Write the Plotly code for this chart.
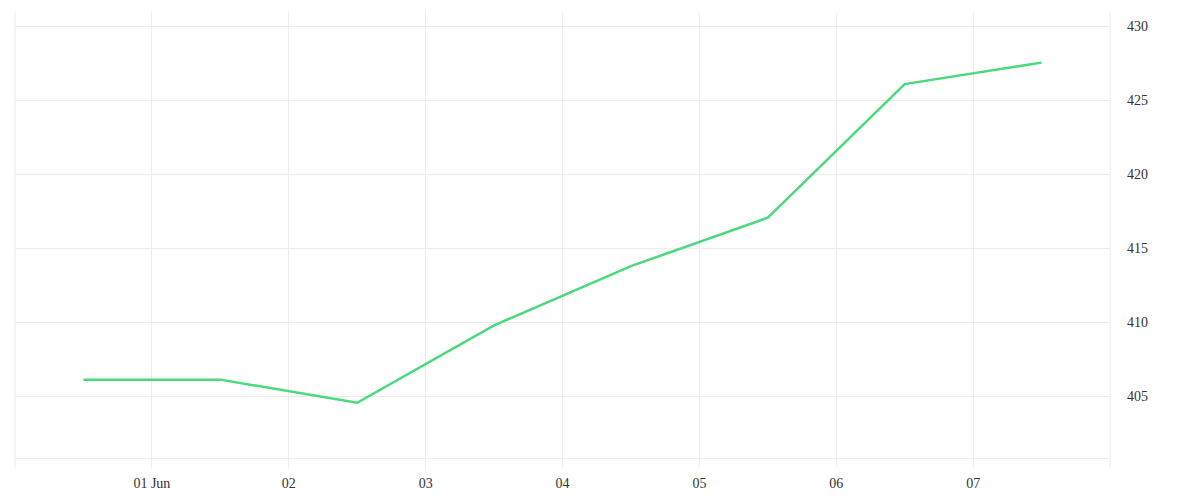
import plotly.graph_objects as go

dates = ["2024-05-31 12:00", "2024-06-01 12:00", "2024-06-02 12:00", "2024-06-03 12:00",
         "2024-06-04 12:00", "2024-06-05 12:00", "2024-06-06 12:00", "2024-06-07 12:00"]
values = [406.13, 406.13, 404.57, 409.80, 413.80, 417.07, 426.10, 427.55]

tick_vals = ["2024-06-01", "2024-06-02", "2024-06-03", "2024-06-04",
             "2024-06-05", "2024-06-06", "2024-06-07"]
tick_text = ["01 Jun", "02", "03", "04", "05", "06", "07"]
y_ticks = [405, 410, 415, 420, 425, 430]

grid = "#ececec"
font = dict(family="Liberation Serif, DejaVu Serif, serif", size=14, color="#333333")

fig = go.Figure()
fig.add_trace(go.Scatter(x=dates, y=values, mode="lines",
                         line=dict(color="#4cd87c", width=2.5),
                         hoverinfo="x+y", showlegend=False))

fig.update_layout(
    width=1192, height=492,
    margin=dict(l=7, r=90, t=4, b=32),
    paper_bgcolor="white", plot_bgcolor="white",
    font=font,
    xaxis=dict(range=["2024-05-31 00:00", "2024-06-08 00:00"], type="date",
               tickvals=tick_vals, ticktext=tick_text,
               showgrid=True, gridcolor=grid, gridwidth=1,
               zeroline=False, showline=False, ticks="",
               ticklabelstandoff=5, fixedrange=True),
    yaxis=dict(range=[400.16, 430.97], side="right",
               tickvals=y_ticks, showgrid=True, gridcolor=grid, gridwidth=1,
               zeroline=False, showline=False, ticks="",
               ticklabelstandoff=16, fixedrange=True),
    shapes=[
        dict(type="line", xref="paper", yref="paper", x0=0, x1=0, y0=0, y1=1,
             line=dict(color=grid, width=1)),
        dict(type="line", xref="paper", yref="paper", x0=1, x1=1, y0=0, y1=1,
             line=dict(color=grid, width=1)),
        dict(type="line", xref="paper", yref="y", x0=0, x1=1, y0=400.81, y1=400.81,
             line=dict(color=grid, width=1), layer="below"),
    ],
)

fig.write_html("out.html")
